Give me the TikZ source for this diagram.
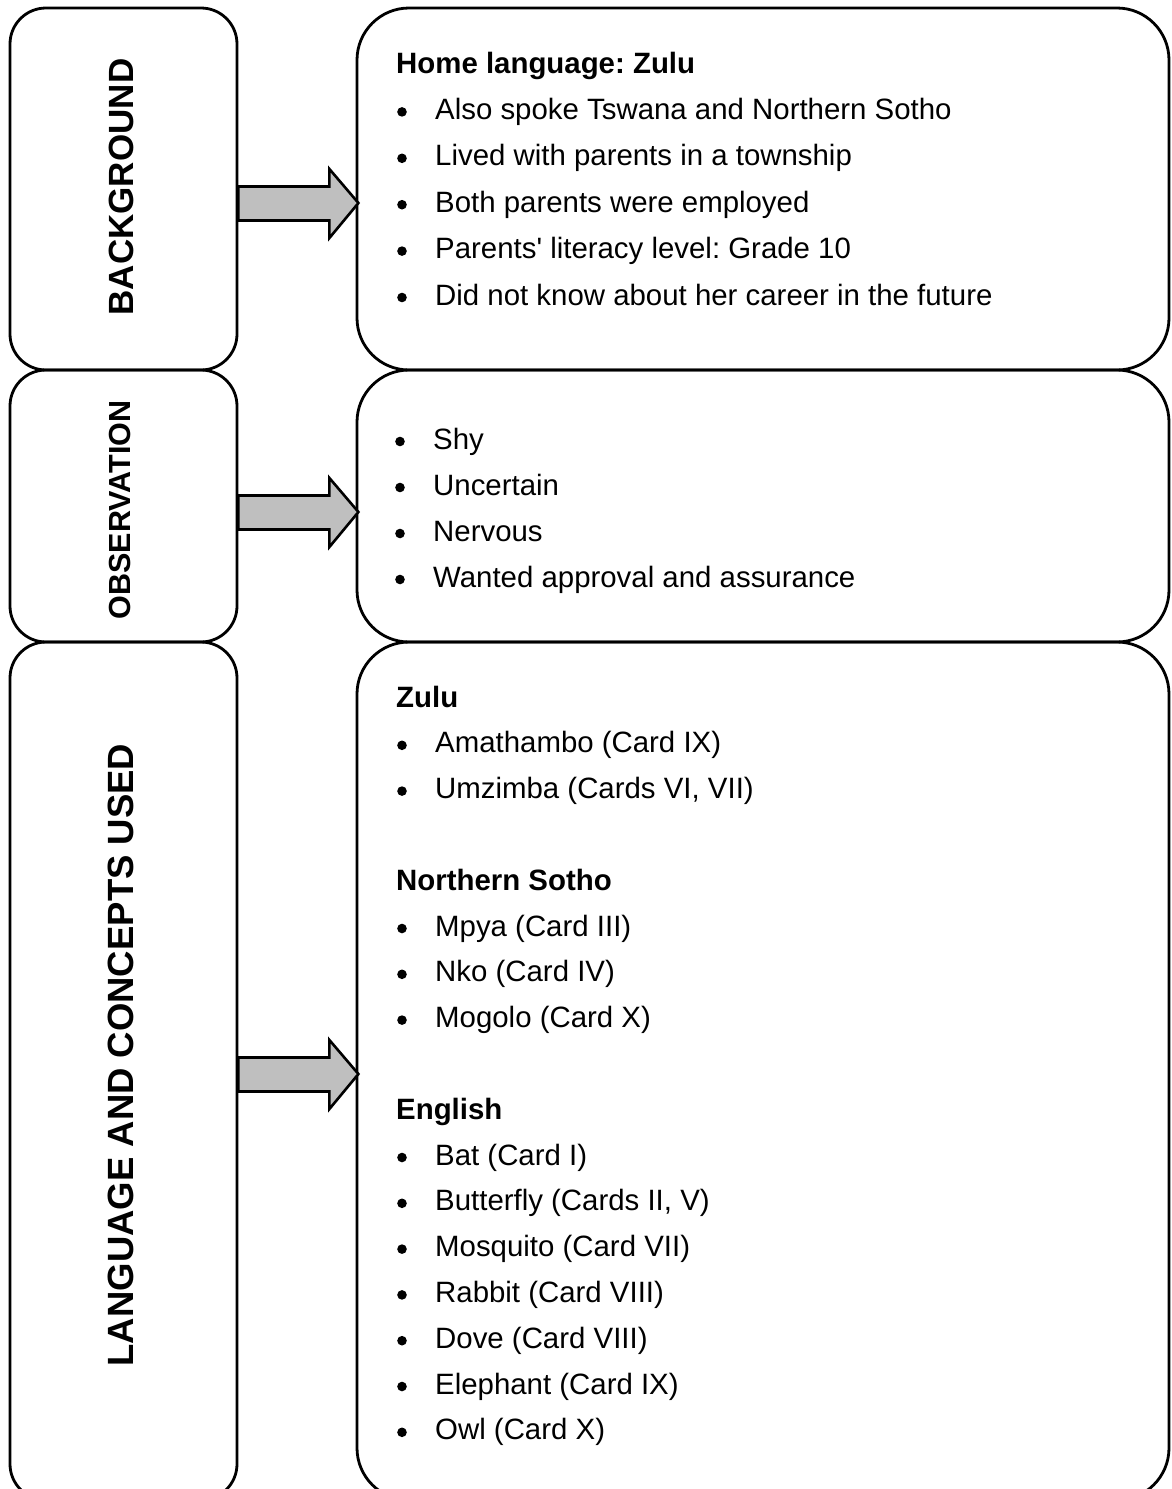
\documentclass[tikz,border=0pt]{standalone}
\usepackage{fontspec}
\setmainfont{Liberation Sans}[Ligatures=TeXOff]
\frenchspacing
\begin{document}
\begin{tikzpicture}[x=1pt,y=-1pt,
  box/.style={draw=black,line width=2.8pt,rectangle,inner sep=0pt},
  lbox/.style={box,rounded corners=36pt},
  rbox/.style={box,rounded corners=52pt},
  vlabel/.style={rotate=90,inner sep=0pt,font=\bfseries\fontsize{#1}{#1}\selectfont},
  txt/.style={anchor=base west,inner sep=0pt,font=\fontsize{29.4}{34}\selectfont},
  head/.style={txt,font=\bfseries\fontsize{29.4}{34}\selectfont},
  blockarrow/.style={draw=black,line width=2.6pt,fill=black!25,line join=miter}]
\useasboundingbox (0,0) rectangle (1171,1489);
\clip (0,0) rectangle (1171,1489);

% one bullet line: node name, bullet x, baseline y, text
\newcommand\itemline[4]{%
  \fill (#2,#3-7.5) circle (4.8);
  \node[txt] (#1) at (#2+33,#3) {#4};}

% left column
\node[lbox,minimum width=227,minimum height=362] (L1) at (123.5,189) {};
\node[lbox,minimum width=227,minimum height=272] (L2) at (123.5,506) {};
\node[lbox,minimum width=227,minimum height=858] (L3) at (123.5,1071) {};
% right column
\node[rbox,minimum width=812,minimum height=362] (R1) at (763,189) {};
\node[rbox,minimum width=812,minimum height=272] (R2) at (763,506) {};
\node[rbox,minimum width=812,minimum height=858] (R3) at (763,1071) {};

% side titles
\node[vlabel=35] (t1) at (121,187) {BACKGROUND};
\node[vlabel=30.5] (t2) at (120,510) {OBSERVATION};
\node[vlabel=36.5] (t3) at (121,1055) {LANGUAGE AND CONCEPTS USED};

% block arrows from each title box to its content box
\coordinate (a1) at (L1.east |- 0,203);
\coordinate (a2) at (L2.east |- 0,512);
\coordinate (a3) at (L3.east |- 0,1074);
\foreach \a in {a1,a2,a3}{
  \draw[blockarrow] (\a) ++(0,-16.5) -- ++(91,0) -- ++(0,-17.5)
    -- ++(29,34) -- ++(-29,35) -- ++(0,-17.5) -- ++(-91,0) -- cycle;
}

% background
\node[head] (h1) at (396,73) {Home language: Zulu};
\itemline{b1}{402}{119.4}{Also spoke Tswana and Northern Sotho}
\itemline{b2}{402}{165.8}{Lived with parents in a township}
\itemline{b3}{402}{212.2}{Both parents were employed}
\itemline{b4}{402}{258.6}{Parents' literacy level: Grade 10}
\itemline{b5}{402}{305}{Did not know about her career in the future}

% observation
\itemline{o1}{400}{449}{Shy}
\itemline{o2}{400}{495}{Uncertain}
\itemline{o3}{400}{541}{Nervous}
\itemline{o4}{400}{587}{Wanted approval and assurance}

% language and concepts
\node[head] (h2) at (396,707) {Zulu};
\itemline{z1}{402}{752.8}{Amathambo (Card IX)}
\itemline{z2}{402}{798.6}{Umzimba (Cards VI, VII)}
\node[head] (h3) at (396,890.2) {Northern Sotho};
\itemline{n1}{402}{936}{Mpya (Card III)}
\itemline{n2}{402}{981.8}{Nko (Card IV)}
\itemline{n3}{402}{1027.6}{Mogolo (Card X)}
\node[head] (h4) at (396,1119.2) {English};
\itemline{e1}{402}{1165}{Bat (Card I)}
\itemline{e2}{402}{1210.8}{Butterfly (Cards II, V)}
\itemline{e3}{402}{1256.6}{Mosquito (Card VII)}
\itemline{e4}{402}{1302.4}{Rabbit (Card VIII)}
\itemline{e5}{402}{1348.2}{Dove (Card VIII)}
\itemline{e6}{402}{1394}{Elephant (Card IX)}
\itemline{e7}{402}{1439.8}{Owl (Card X)}
\end{tikzpicture}
\end{document}
